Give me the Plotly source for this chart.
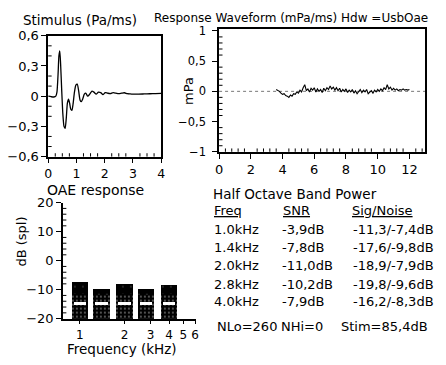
import numpy as np
import plotly.graph_objects as go

W, H = 446, 365
FONT = "DejaVu Sans"

# ---------------- data ----------------
# Stimulus waveform (Pa/ms) vs time (ms)
stim_t = [0.00, 0.10, 0.20, 0.27, 0.31, 0.35, 0.38, 0.41, 0.44, 0.48, 0.52, 0.56,
          0.60, 0.64, 0.68, 0.72, 0.76, 0.80, 0.84, 0.88, 0.93, 0.98, 1.03, 1.08,
          1.13, 1.17, 1.22, 1.28, 1.33, 1.40, 1.47, 1.55, 1.62, 1.70, 1.78, 1.86,
          1.94, 2.02, 2.10, 2.20, 2.30, 2.40, 2.50, 2.60, 2.70, 2.80, 2.90, 3.00,
          3.20, 3.40, 3.60, 3.80, 4.00]
stim_v = [0.000, -0.005, -0.008, 0.000, 0.040, 0.220, 0.400, 0.450, 0.320, 0.050,
          -0.180, -0.300, -0.320, -0.220, -0.070, -0.030, -0.070, -0.130, -0.140,
          -0.080, 0.040, 0.110, 0.120, 0.050, -0.040, -0.055, -0.030, 0.020, 0.030,
          0.000, 0.020, 0.050, 0.040, 0.020, 0.040, 0.035, 0.015, 0.035, 0.030,
          0.025, 0.035, 0.030, 0.025, 0.030, 0.034, 0.025, 0.022, 0.020, 0.020,
          0.022, 0.024, 0.026, 0.027]

# Response waveform (mPa) sampled every 0.1 ms from 3.6 ms
resp_t0 = 3.6
resp_dt = 0.1
resp_v = [0.03, 0.02, 0.00, -0.03, -0.05, -0.04, -0.07, -0.08, -0.10, -0.06,
          -0.08, -0.04, -0.05, -0.01, -0.03, 0.02, -0.01, 0.06, 0.11, 0.01,
          0.04, -0.01, 0.05, 0.02, 0.06, -0.01, 0.04, 0.00, 0.03, -0.02,
          0.05, 0.01, 0.06, 0.03, 0.09, 0.04, 0.07, 0.02, 0.06, 0.01,
          0.05, -0.01, 0.03, 0.00, 0.04, -0.02, 0.02, -0.01, 0.03, -0.03,
          0.01, -0.04, 0.00, 0.03, -0.02, 0.02, -0.01, 0.03, -0.04, -0.02,
          0.01, -0.03, 0.02, -0.01, 0.03, 0.00, 0.04, 0.01, 0.06, 0.03,
          0.11, 0.04, 0.07, 0.02, 0.05, 0.02, 0.04, 0.01, 0.03, 0.02,
          0.04, 0.02, 0.03, 0.02, 0.03]

# Half octave band power
band_freq_khz = [1.0, 1.4, 2.0, 2.8, 4.0]
band_names = ["1.0kHz", "1.4kHz", "2.0kHz", "2.8kHz", "4.0kHz"]
signal_db = [-11.3, -17.6, -18.9, -19.8, -16.2]
noise_db = [-7.4, -9.8, -7.9, -9.6, -8.3]
speckle_top_db = [-11.5, -11.8, -11.5, -11.8, -11.5]
white_band_db = [-14.7, -14.7, -14.7, -14.7, -14.7]
bar_floor_db = -20

# axis ticks (major step, minor step)
stim_x_ticks = (1, 0.25)
stim_y_ticks = (0.3, 0.1)
resp_x_ticks = (2, 0.4)
resp_y_ticks = (0.5, 0.1)
oae_xticks = [1, 2, 3, 4, 5, 6]
oae_y_ticks = (10, 2)

footer = [("NLo=260", 215), ("NHi=0", 280), ("Stim=85,4dB", 341)]


def fmt(v):
    return f"{v:.1f}".replace(".", ",")


snr_text = [fmt(s - n) + "dB" for s, n in zip(signal_db, noise_db)]
sn_text = [fmt(s) + "/" + fmt(n) + "dB" for s, n in zip(signal_db, noise_db)]

# ---------------- helpers ----------------
def px(x):
    return x / W


def py(y):
    return 1 - y / H


def lin_ticks(major):
    return dict(tickmode="linear", tick0=0, dtick=major, tickformat=".1~f")


tickfont = dict(family=FONT, size=13, color="black")

fig = go.Figure()

fig.add_trace(go.Scatter(x=stim_t, y=stim_v, mode="lines",
                         line=dict(color="black", width=1.3, shape="spline", smoothing=0.6),
                         xaxis="x", yaxis="y", showlegend=False))

resp_t = resp_t0 + resp_dt * np.arange(len(resp_v))
fig.add_trace(go.Scatter(x=resp_t, y=resp_v, mode="lines",
                         line=dict(color="black", width=1.1),
                         xaxis="x2", yaxis="y2", showlegend=False))

bx = np.log10(band_freq_khz)
bw = 0.112
fig.add_trace(go.Bar(x=bx, y=[n - bar_floor_db for n in noise_db], base=bar_floor_db,
                     width=bw, xaxis="x3", yaxis="y3", showlegend=False,
                     marker=dict(color="black", line=dict(width=0),
                                 pattern=dict(shape=".", fgcolor="#aaaaaa", bgcolor="black",
                                              size=8, solidity=0.03))))
fig.add_trace(go.Bar(x=bx, y=[s - bar_floor_db for s in speckle_top_db], base=bar_floor_db,
                     width=bw, xaxis="x3", yaxis="y3", showlegend=False,
                     marker=dict(color="black", line=dict(width=0),
                                 pattern=dict(shape=".", fgcolor="#dddddd", bgcolor="black",
                                              size=4, solidity=0.18))))
fig.add_trace(go.Bar(x=bx, y=[1.1] * len(white_band_db), base=[w - 0.55 for w in white_band_db],
                     width=bw * 0.75, xaxis="x3", yaxis="y3", showlegend=False,
                     marker=dict(color="white", line=dict(width=0))))

axline = dict(showline=True, linecolor="black", linewidth=1.5, showgrid=False,
              zeroline=False, ticks="outside", ticklen=5, tickwidth=1, tickcolor="black",
              tickfont=tickfont, fixedrange=True)

p1 = dict(x=(45, 160), y=(30, 156))
p2 = dict(x=(219, 429), y=(23, 151))
p3 = dict(x=(60, 196), y=(204, 325))


def dom(p):
    return [px(p["x"][0]), px(p["x"][1])], [py(p["y"][1]), py(p["y"][0])]


d1x, d1y = dom(p1)
d2x, d2y = dom(p2)
d3x, d3y = dom(p3)

fig.update_layout(
    width=W, height=H, margin=dict(l=0, r=0, t=0, b=0),
    paper_bgcolor="white", plot_bgcolor="white",
    barmode="overlay", bargap=0, separators=", ",
    font=dict(family=FONT, color="black"),
    xaxis=dict(axline, domain=d1x, range=[0, 4], anchor="y", mirror=True,
               **lin_ticks(stim_x_ticks[0])),
    yaxis=dict(axline, domain=d1y, range=[-0.6, 0.6], anchor="x", mirror=True,
               **lin_ticks(stim_y_ticks[0])),
    xaxis2=dict(axline, domain=d2x, range=[0, 13], anchor="y2", mirror=True,
                **lin_ticks(resp_x_ticks[0])),
    yaxis2=dict(axline, domain=d2y, range=[-1, 1.03], anchor="x2", mirror=True,
                ticklabelstandoff=4, **lin_ticks(resp_y_ticks[0])),
    xaxis3=dict(axline, domain=d3x, range=[-0.114, 0.787], anchor="y3",
                tickmode="array", tickvals=list(np.log10(oae_xticks)),
                ticktext=[str(v) for v in oae_xticks], ticklen=4,
                tickfont=dict(family=FONT, size=12, color="black")),
    yaxis3=dict(axline, domain=d3y, range=[-20, 20], anchor="x3",
                **lin_ticks(oae_y_ticks[0])),
)
fig.update_layout(yaxis2_tickfont_size=11.5, xaxis_tickfont_size=12.5)

# small inside minor ticks, placed through each axis' own coordinates
TL = 3.5


def minor_x(xref, yref, lo, hi, step, major, p):
    frac = TL / (p["y"][1] - p["y"][0])
    for v in np.arange(lo, hi + step / 2, step):
        if abs(v / major - round(v / major)) < 1e-6:
            continue
        fig.add_shape(type="line", xref=xref, yref=yref + " domain", x0=v, x1=v,
                      y0=0, y1=frac, line=dict(color="black", width=1))


def minor_y(xref, yref, lo, hi, step, major, p):
    frac = TL / (p["x"][1] - p["x"][0])
    for v in np.arange(lo, hi + step / 2, step):
        if abs(v / major - round(v / major)) < 1e-6:
            continue
        fig.add_shape(type="line", xref=xref + " domain", yref=yref, x0=0, x1=frac,
                      y0=v, y1=v, line=dict(color="black", width=1))


minor_x("x", "y", 0, 4, stim_x_ticks[1], stim_x_ticks[0], p1)
minor_y("x", "y", -0.6, 0.6, stim_y_ticks[1], stim_y_ticks[0], p1)
minor_x("x2", "y2", 0, 12.8, resp_x_ticks[1], resp_x_ticks[0], p2)
minor_y("x2", "y2", -1, 1, resp_y_ticks[1], resp_y_ticks[0], p2)
minor_y("x3", "y3", -20, 20, oae_y_ticks[1], oae_y_ticks[0], p3)

fig.add_shape(type="line", xref="x2 domain", yref="y2", x0=0, x1=1, y0=0, y1=0,
              line=dict(color="#777777", width=1, dash="dot"), layer="below")


def label(text, x, y, size=13, xanchor="left", angle=0):
    fig.add_annotation(text=text, x=px(x), y=py(y), xref="paper", yref="paper",
                       xanchor=xanchor, yanchor="middle", showarrow=False, textangle=angle,
                       font=dict(family=FONT, size=size, color="black"))


label("Stimulus (Pa/ms)", 17, 14, 13.5)
label("Response Waveform (mPa/ms) Hdw =UsbOae", 151, 11, 12)
label("OAE response", 42, 191, 14)
label("Frequency (kHz)", 62, 357, 13.5)
label("dB (spl)", 18, 245, 13, xanchor="center", angle=-90)
label("mPa", 188, 88, 13, xanchor="center", angle=-90)

label("Half Octave Band Power", 211, 195, 13.5)
label("<u>Freq</u>", 212, 212, 13)
label("<u>SNR</u>", 282, 212, 13)
label("<u>Sig/Noise</u>", 352, 212, 13)
row_y = [232, 251, 270, 289, 307]
for name, snr, sn, yy in zip(band_names, snr_text, sn_text, row_y):
    label(name, 212, yy, 13)
    label(snr, 281, yy, 13)
    label(sn, 353, yy, 13)
for txt, xx in footer:
    label(txt, xx, 333, 13)

fig.write_html("out.html", config={"displayModeBar": False})
